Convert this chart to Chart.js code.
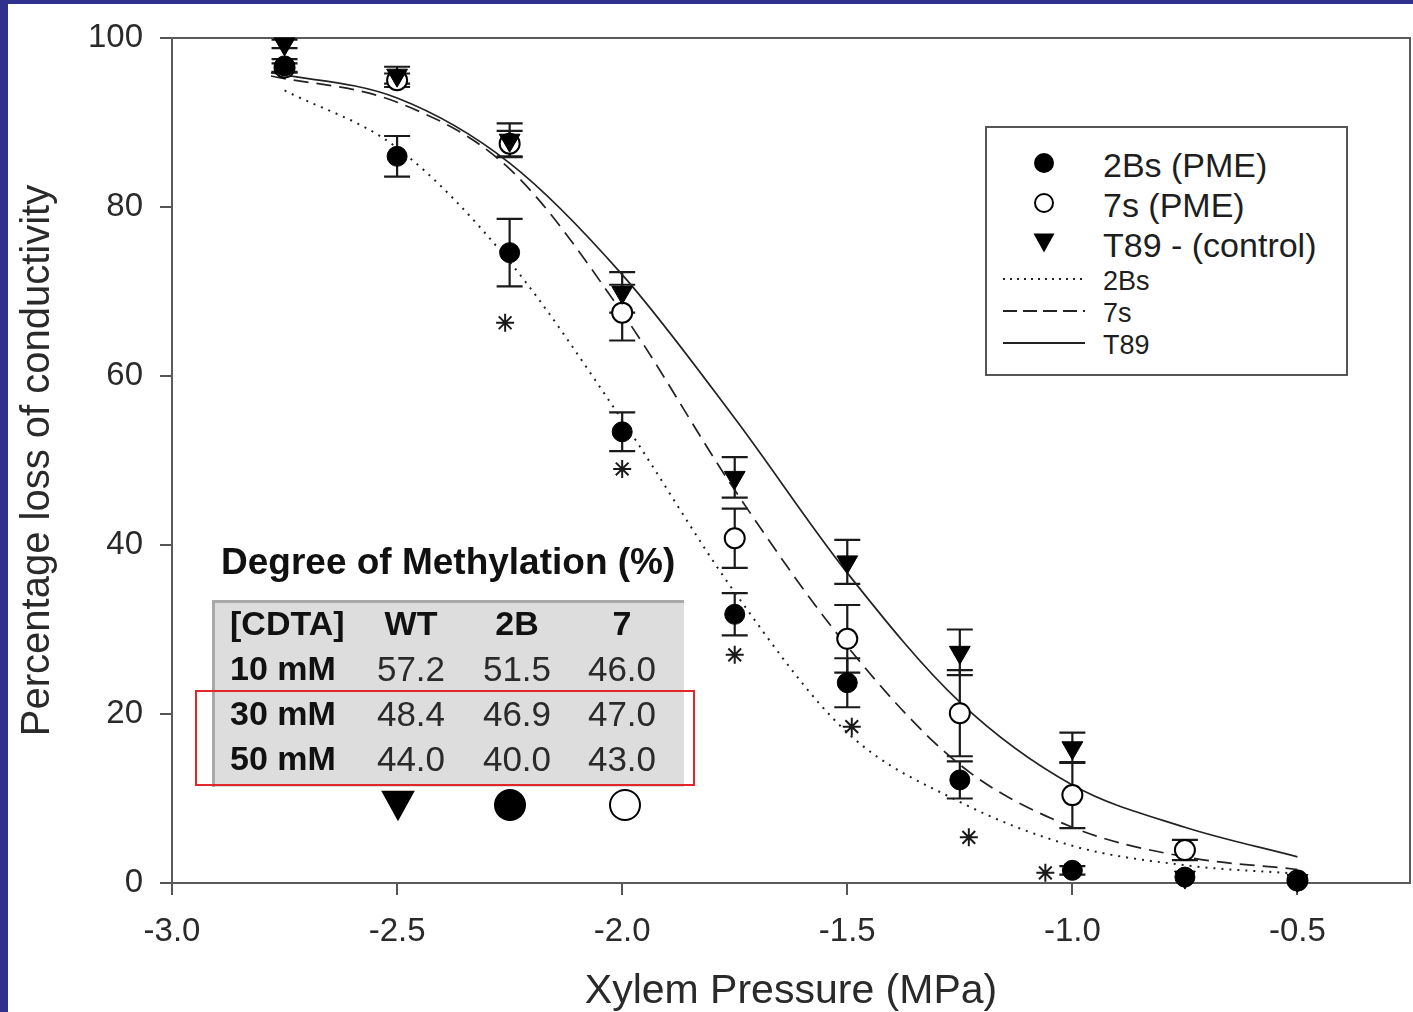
<!DOCTYPE html>
<html>
<head>
<meta charset="utf-8">
<script src="https://cdn.jsdelivr.net/npm/chart.js@4.4.1/dist/chart.umd.min.js"></script>
<style>
  body { margin: 0; background: #fff; }
  #wrap { position: relative; width: 1413px; height: 1012px; overflow: hidden;
          font-family: 'Liberation Sans', Arial, sans-serif; color: #1e1e1e; }
  #box { position: absolute; left: 0; top: 0; width: 1413px; height: 1012px; }
  .frame { position: absolute; background: #30308f; }
  .lbl { position: absolute; white-space: nowrap; line-height: 1; transform: translate(0, -50%); }
  .ctr { transform: translate(-50%, -50%); }
  #legend { position: absolute; left: 985px; top: 126px; width: 363px; height: 250px;
            box-sizing: border-box; border: 2px solid #555; background: #fff; }
  #table { position: absolute; left: 212px; top: 600px; width: 472px; height: 187px;
           box-sizing: border-box; background: #dddddd;
           border-top: 3px solid #a9a9a9; border-left: 3px solid #a9a9a9; }
  #redbox { position: absolute; left: 195px; top: 690px; width: 500px; height: 96px;
            box-sizing: border-box; border: 2px solid #e3262a; }
  svg { position: absolute; overflow: visible; }
</style>
</head>
<body>
<div id="wrap">
  <div id="box"><canvas id="chart"></canvas></div>
  <div class="frame" style="left:0;top:0;width:8px;height:1012px"></div>
  <div class="frame" style="left:0;top:0;width:1413px;height:4px"></div>

  <div id="legend"></div>

  <div class="lbl" style="left:221px;top:561px;font-size:37px;font-weight:bold;color:#111">Degree of Methylation (%)</div>
  <div id="table"></div>
  <div id="redbox"></div>
  <div id="tableMarks"></div>
</div>

<script>
// measured points, x = xylem pressure (MPa)
const pressure = [-2.75, -2.5, -2.25, -2.0, -1.75, -1.5, -1.25, -1.0, -0.75, -0.5];
const pme2Bs    = [96.7, 86.0, 74.6, 53.4, 31.8, 23.7, 12.2, 1.5, 0.7, 0.3];
const pme2BsErr = [0.8, 2.4, 4.0, 2.3, 2.5, 2.9, 2.2, 0.5, 0, 0];
const pme7s     = [96.5, 95.0, 87.5, 67.5, 40.8, 28.9, 20.1, 10.4, 3.9, 0.3];
const pme7sErr  = [0.5, 0.8, 1.5, 3.3, 3.5, 4.0, 5.1, 3.9, 1.2, 0];
const t89       = [99.3, 95.6, 87.9, 69.9, 48.0, 38.0, 27.3, 16.0, 0.7, 0.3];
const t89Err    = [0.5, 1.0, 2.0, 2.4, 2.4, 2.6, 2.7, 1.8, 0, 0];

// fitted curves
const fit2BsX = [-2.75, -2.5, -2.25, -2.0, -1.75, -1.5, -1.25, -1.0, -0.75, -0.5];
const fit2Bs  = [93.8, 87.0, 73.5, 54.8, 34.4, 17.8, 9.6, 4.4, 2.1, 1.1];
const fitX    = [-2.78, -2.5, -2.25, -2.0, -1.75, -1.5, -1.25, -1.0, -0.75, -0.5];
const fit7s   = [95.5, 92.4, 84.5, 67.5, 46.5, 28.0, 14.0, 6.6, 3.1, 1.6];
const fitT89  = [95.9, 92.9, 85.2, 72.0, 55.0, 36.7, 21.4, 11.6, 6.6, 3.1];

// significance asterisks
const starX = [-2.26, -2.0, -1.75, -1.49, -1.23, -1.06];
const starY = [66.3, 49.0, 27.0, 18.5, 5.4, 1.2];

const xTicks = [-3.0, -2.5, -2.0, -1.5, -1.0, -0.5];
const yTicks = [0, 20, 40, 60, 80, 100];

// inset table
const tableHead = ['[CDTA]', 'WT', '2B', '7'];
const tableConc = ['10 mM', '30 mM', '50 mM'];
const tableWT = ['57.2', '48.4', '44.0'];
const table2B = ['51.5', '46.9', '40.0'];
const table7  = ['46.0', '47.0', '43.0'];

const FONT = "'Liberation Sans', Arial, sans-serif";
const INK = '#1a1a1a';

const pts = (xs, ys) => xs.map((x, i) => ({ x: x, y: ys[i] }));

const frameAndBars = {
  id: 'frameAndBars',
  beforeDatasetsDraw(chart) {
    const { ctx, chartArea: a, scales: { x, y } } = chart;
    ctx.save();
    // top + right frame
    ctx.strokeStyle = '#5a5a5a';
    ctx.lineWidth = 2;
    ctx.beginPath();
    ctx.moveTo(a.left, a.top);
    ctx.lineTo(a.right, a.top);
    ctx.lineTo(a.right, a.bottom);
    ctx.stroke();
    // error bars
    ctx.strokeStyle = INK;
    ctx.lineWidth = 2.2;
    [[pme2Bs, pme2BsErr], [pme7s, pme7sErr], [t89, t89Err]].forEach(([vals, errs]) => {
      vals.forEach((v, i) => {
        if (!errs[i]) return;
        const px = x.getPixelForValue(pressure[i]);
        const top = y.getPixelForValue(v + errs[i]);
        const bot = y.getPixelForValue(v - errs[i]);
        ctx.beginPath();
        ctx.moveTo(px, top); ctx.lineTo(px, bot);
        ctx.moveTo(px - 13, top); ctx.lineTo(px + 13, top);
        ctx.moveTo(px - 13, bot); ctx.lineTo(px + 13, bot);
        ctx.stroke();
      });
    });
    ctx.restore();
  }
};

new Chart(document.getElementById('chart'), {
  type: 'scatter',
  data: {
    datasets: [
      { label: '2Bs (PME)', data: pts(pressure, pme2Bs), pointStyle: 'circle', pointRadius: 10,
        backgroundColor: '#000', borderColor: '#000', borderWidth: 1, clip: false, order: 1 },
      { label: 'T89 - (control)', data: pts(pressure, t89), pointStyle: 'triangle', pointRotation: 180,
        pointRadius: 12, backgroundColor: '#000', borderColor: '#000', borderWidth: 1, clip: false, order: 2 },
      { label: '7s (PME)', data: pts(pressure, pme7s), pointStyle: 'circle', pointRadius: 10,
        backgroundColor: '#fff', borderColor: '#000', borderWidth: 2, clip: false, order: 3 },
      { label: 'stars', data: pts(starX, starY), pointStyle: 'star', pointRadius: 9,
        borderColor: INK, borderWidth: 2, clip: false, order: 4 },
      { label: 'T89', data: pts(fitX, fitT89), showLine: true, pointRadius: 0,
        cubicInterpolationMode: 'monotone', borderColor: '#222', borderWidth: 1.7, order: 10 },
      { label: '7s', data: pts(fitX, fit7s), showLine: true, pointRadius: 0, borderDash: [15, 8],
        cubicInterpolationMode: 'monotone', borderColor: '#222', borderWidth: 1.7, order: 11 },
      { label: '2Bs', data: pts(fit2BsX, fit2Bs), showLine: true, pointRadius: 0, borderDash: [2, 6],
        cubicInterpolationMode: 'monotone', borderColor: '#222', borderWidth: 2, order: 12 }
    ]
  },
  options: {
    responsive: true,
    maintainAspectRatio: false,
    animation: false,
    events: [],
    layout: { autoPadding: false, padding: { top: 38, right: 3, left: 0, bottom: 0 } },
    plugins: { legend: { display: false }, tooltip: { enabled: false } },
    scales: {
      x: {
        type: 'linear', min: -3, max: -0.25,
        afterBuildTicks: s => { s.ticks = xTicks.map(v => ({ value: v })); },
        afterFit: s => { s.height = 129; s.paddingLeft = 0; s.paddingRight = 0; },
        ticks: { callback: v => Number(v).toFixed(1), font: { size: 33, family: FONT },
                 color: '#2a2a2a', padding: 17, maxRotation: 0, autoSkip: false },
        grid: { drawOnChartArea: false, tickLength: 12, color: '#555', lineWidth: 2 },
        border: { color: '#5a5a5a', width: 2 },
        title: { display: true, text: 'Xylem Pressure (MPa)', color: '#2a2a2a',
                 font: { size: 41, family: FONT, lineHeight: 1 }, padding: { top: 0, bottom: 0 } }
      },
      y: {
        min: 0, max: 100,
        afterBuildTicks: s => { s.ticks = yTicks.map(v => ({ value: v })); },
        afterFit: s => { s.width = 172; },
        ticks: { font: { size: 33, family: FONT }, color: '#2a2a2a', padding: 17 },
        grid: { drawOnChartArea: false, tickLength: 12, color: '#555', lineWidth: 2 },
        border: { color: '#5a5a5a', width: 2 },
        title: { display: true, text: 'Percentage loss of conductivity', color: '#2a2a2a',
                 font: { size: 40, family: FONT, lineHeight: 1.2 }, padding: { top: 14, bottom: 0 } }
      }
    }
  },
  plugins: [frameAndBars]
});

// ---- legend (html) ----
const legend = document.getElementById('legend');
const markerItems = [
  { text: '2Bs (PME)', shape: 'dot', y: 37 },
  { text: '7s (PME)', shape: 'ring', y: 77 },
  { text: 'T89 - (control)', shape: 'tri', y: 117 }
];
const lineItems = [
  { text: '2Bs', dash: '2 5', y: 153 },
  { text: '7s', dash: '14 6', y: 185 },
  { text: 'T89', dash: '', y: 217 }
];

function shapeSvg(shape, cx, cy, r) {
  if (shape === 'dot') return `<circle cx="${cx}" cy="${cy}" r="${r}" fill="#000"/>`;
  if (shape === 'ring') return `<circle cx="${cx}" cy="${cy}" r="${r - 1}" fill="#fff" stroke="#000" stroke-width="2"/>`;
  const h = r * 1.9, w = r * 2.1;
  return `<polygon points="${cx - w / 2},${cy - h / 2} ${cx + w / 2},${cy - h / 2} ${cx},${cy + h / 2}" fill="#000"/>`;
}

let lg = '<svg width="363" height="250" style="left:-2px;top:-2px">';
markerItems.forEach(m => { lg += shapeSvg(m.shape, 59, m.y, 10); });
lineItems.forEach(l => {
  lg += `<line x1="18" y1="${l.y}" x2="100" y2="${l.y}" stroke="#222" stroke-width="2" ${l.dash ? `stroke-dasharray="${l.dash}"` : ''}/>`;
});
lg += '</svg>';
markerItems.forEach(m => { lg += `<div class="lbl" style="left:116px;top:${m.y}px;font-size:34px">${m.text}</div>`; });
lineItems.forEach(l => { lg += `<div class="lbl" style="left:116px;top:${l.y}px;font-size:27px">${l.text}</div>`; });
legend.innerHTML = lg;

// ---- inset table (html) ----
const colX = [230, 411, 517, 622];
const rowY = [623, 668, 713, 758];
let tb = '';
tableHead.forEach((h, i) => {
  tb += `<div class="lbl${i ? ' ctr' : ''}" style="left:${colX[i]}px;top:${rowY[0]}px;font-size:34px;font-weight:bold;color:#111">${h}</div>`;
});
tableConc.forEach((c, r) => {
  tb += `<div class="lbl" style="left:${colX[0]}px;top:${rowY[r + 1]}px;font-size:34px;font-weight:bold;color:#111">${c}</div>`;
  [tableWT[r], table2B[r], table7[r]].forEach((v, k) => {
    tb += `<div class="lbl ctr" style="left:${colX[k + 1]}px;top:${rowY[r + 1]}px;font-size:35px;color:#2a2a2a">${v}</div>`;
  });
});
tb += '<svg width="1413" height="1012" style="left:0;top:0">' +
      shapeSvg('tri', 398, 806, 16) + shapeSvg('dot', 510, 805, 16) + shapeSvg('ring', 625, 805, 16) + '</svg>';
document.getElementById('tableMarks').innerHTML = tb;
</script>
</body>
</html>
